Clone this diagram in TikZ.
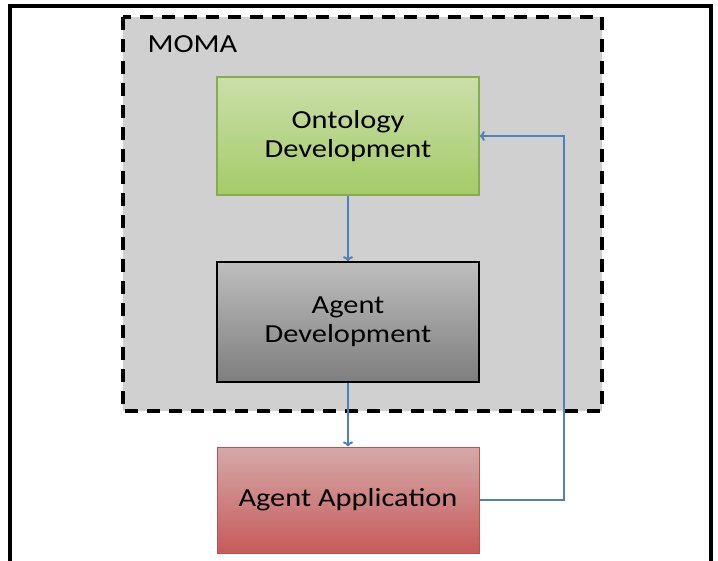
\documentclass[tikz,border=0pt]{standalone}
\usepackage{fontspec}
\setmainfont[FakeStretch=1.17]{Carlito}
\usetikzlibrary{arrows.meta}
\definecolor{momagray}{HTML}{D0D0D0}
\definecolor{flowblue}{HTML}{4F81BD}
\definecolor{ontotop}{HTML}{CBDFAA}
\definecolor{ontobot}{HTML}{A4CB68}
\definecolor{ontoline}{HTML}{86AC50}
\definecolor{agenttop}{HTML}{BEBEBE}
\definecolor{agentbot}{HTML}{7E7E7E}
\definecolor{apptop}{HTML}{D5A9A9}
\definecolor{appbot}{HTML}{C65B5A}
\definecolor{appline}{HTML}{C0504D}

\begin{document}
\begin{tikzpicture}[x=1pt,y=-1pt,
    stage/.style={minimum width=262pt,inner sep=0pt,align=center,font=\fontsize{26}{29}\selectfont},
    flow/.style={-{To[length=5pt,width=10pt]},draw=flowblue,line width=2pt}]
\useasboundingbox (0,0) rectangle (718,561);
\draw[line width=3.5pt] (10,561) -- (10,6) -- (711,6) -- (711,561);
\draw[fill=momagray,line width=4pt,dash pattern=on 13pt off 9pt] (123,17) rectangle (602,411);
\node[anchor=base west,font=\fontsize{26}{29}\selectfont] (moma) at (144,53) {MOMA};
\node[stage,minimum height=118pt,top color=ontotop,bottom color=ontobot,draw=ontoline,line width=1.5pt]
    (onto) at (348,136) {Ontology\\Development};
\node[stage,minimum height=120pt,top color=agenttop,bottom color=agentbot,draw=black,line width=1.5pt]
    (agent) at (348,322) {Agent\\Development};
\node[stage,minimum height=106pt,top color=apptop,bottom color=appbot,draw=appline,line width=1pt]
    (app) at (348,500) {Agent Application};
\coordinate (back) at (564,136);
\draw[flow] (onto) -- (agent);
\draw[flow] (agent) -- (app);
\draw[flow] (app.east) -| (back) -- (onto.east);
\end{tikzpicture}
\end{document}
